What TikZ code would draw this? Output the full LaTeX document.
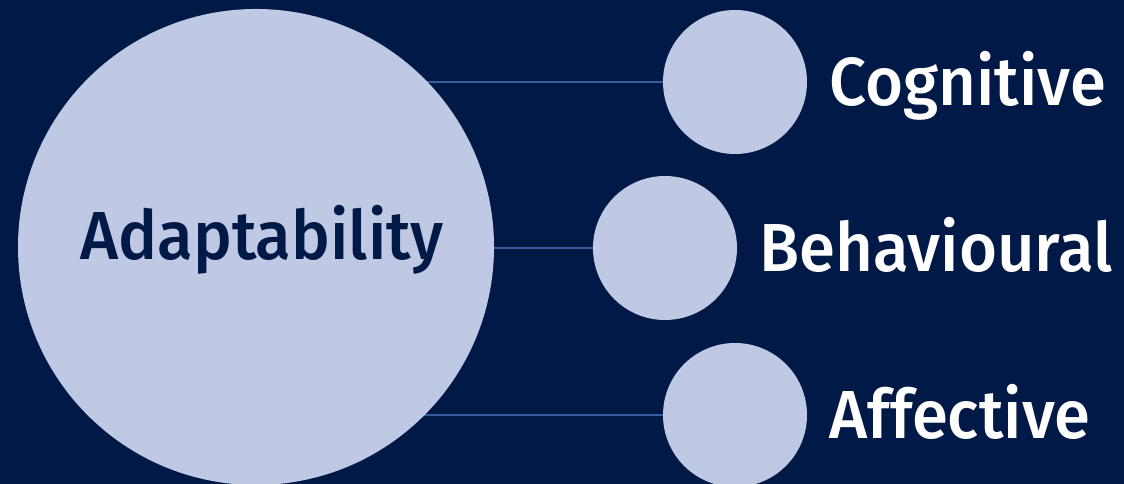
\documentclass[tikz,border=0pt]{standalone}
\usepackage{fontspec}
\setmainfont{Fira Sans Medium}[FakeStretch=0.96]
\usetikzlibrary{positioning}
\definecolor{navy}{RGB}{1,25,70}
\definecolor{pale}{RGB}{191,201,227}
\definecolor{linkblue}{RGB}{55,92,160}
\pgfdeclarelayer{back}
\pgfdeclarelayer{links}
\pgfsetlayers{back,links,main}
\begin{document}
\begin{tikzpicture}[x=1pt, y=1pt,
    blob/.style={circle, fill=pale, inner sep=0pt},
    word/.style={inner sep=0pt, text height=46.8pt, text depth=0pt, font=\fontsize{68}{80}\selectfont}]
    \begin{pgfonlayer}{back}
      \fill[navy] (0,0) rectangle (1124,484);
    \end{pgfonlayer}
    \useasboundingbox (0,0) rectangle (1124,484);

    \node[blob, minimum size=476pt] (adapt) at (256,237) {};
    \node[word, text=navy] (adapttxt) at (262,247.5) {Adaptability};

    \foreach \name/\x/\y/\txt in {cog/735/402/Cognitive, beh/665/236/Behavioural, aff/735/69/Affective} {
      \node[blob, minimum size=144pt] (\name) at (\x,\y) {};
      \node[word, text=white, right=22pt of \name] (\name txt) {\txt};
      \begin{pgfonlayer}{links}
        \draw[linkblue, line width=2.6pt] (adapt.center |- \name.center) -- (\name.center);
      \end{pgfonlayer}
    }
\end{tikzpicture}
\end{document}
